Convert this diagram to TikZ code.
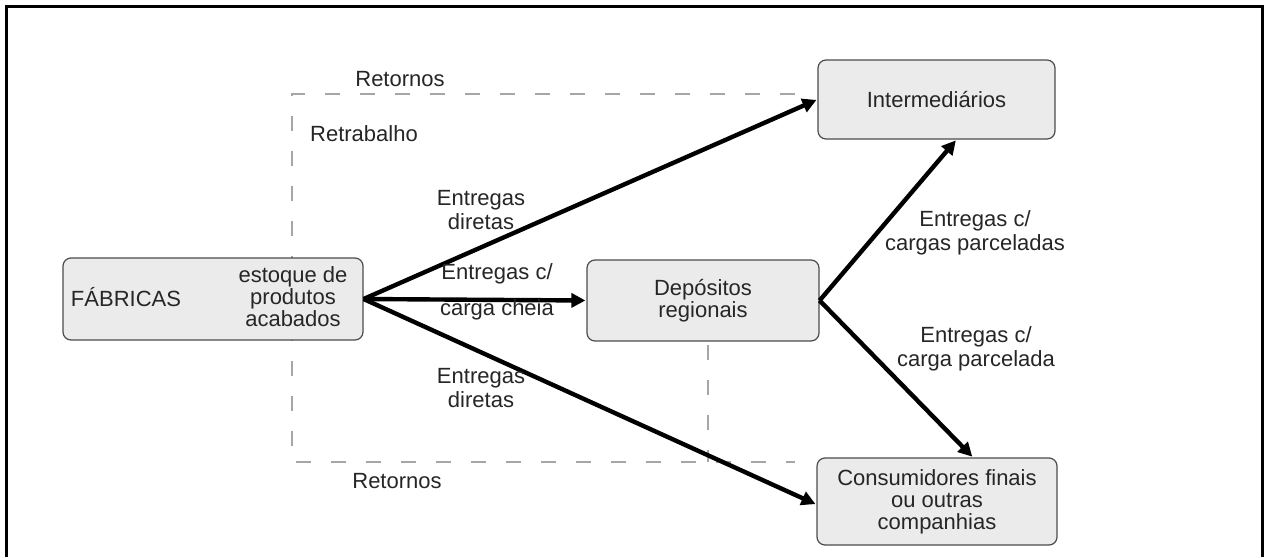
\documentclass[tikz,border=0pt]{standalone}
\usepackage{fontspec}
\setmainfont{Liberation Sans}
\usetikzlibrary{arrows.meta,calc}
\begin{document}
\begin{tikzpicture}[x=1pt,y=-1pt,
  every node/.style={inner sep=0pt, text=black!85},
  lbl/.style={font=\fontsize{22}{24.5}\selectfont, align=center},
  boxtext/.style={font=\fontsize{22}{22}\selectfont, align=center},
  stagebox/.style={draw=black!70, line width=1.2pt, rounded corners=8pt,
    fill=black!8},
  flow/.style={line width=4.4pt, -{Triangle[length=14pt,width=14pt]},
    shorten >=1pt},
  returnline/.style={draw=black!35, line width=2.2pt, dash pattern=on 15pt off 20pt}
]
\useasboundingbox (0,0) rectangle (1269,557);
\fill[white] (0,0) rectangle (1269,557);
% outer frame
\draw[line width=3pt] (6,557) -- (6,6) -- (1262,6) -- (1262,557);

% return / rework loop
\coordinate (rtr) at (795,94);
\coordinate (rtl) at (292,94);
\coordinate (rbl) at (292,462);
\coordinate (rbr) at (795,462);
\coordinate (rmt) at (708,345);
\coordinate (rmb) at (708,462);
\draw[returnline] (rtr) -- (rtl) -- (rbl) -- (rbr);
\draw[returnline] (rmt) -- (rmb);

% stages
\node[stagebox, minimum width=300pt, minimum height=82pt] (fab) at (213,299) {};
\node[lbl] (fabname) at (126,297) {FÁBRICAS};
\node[boxtext] (stock) at (293,297) {estoque de\\produtos\\acabados};
\node[stagebox, boxtext, minimum width=232pt, minimum height=81pt] (dep) at (703,300.5) {Depósitos\\regionais};
\node[stagebox, boxtext, minimum width=237pt, minimum height=79pt] (inter) at (936.5,99.5) {Intermediários};
\node[stagebox, boxtext, minimum width=240pt, minimum height=87pt] (cons) at (937,501.5) {Consumidores finais\\ou outras\\companhias};

% flows
\draw[flow] (fab.east) -- (inter.west);
\draw[flow] (fab.east) -- (dep.west);
\draw[flow] (fab.east) -- ([yshift=-3pt]cons.west);
\draw[flow] (dep.east) -- ([xshift=20pt]inter.south);
\draw[flow] (dep.east) -- ([xshift=36pt]cons.north);

% labels
\node[lbl] (rettop) at (400,79) {Retornos};
\node[lbl] (retbot) at (397,481) {Retornos};
\node[lbl] (rework) at (364,134) {Retrabalho};
\node[lbl] (direct1) at (481,210) {Entregas\\diretas};
\node[lbl] (full1) at (497,274) {Entregas c/};
\node[lbl] (full2) at (497,310) {carga cheia};
\node[lbl] (direct2) at (481,388) {Entregas\\diretas};
\node[lbl] (part1) at (975,233) {Entregas c/\\cargas parceladas};
\node[lbl] (part2) at (976,349) {Entregas c/\\carga parcelada};
\end{tikzpicture}
\end{document}
